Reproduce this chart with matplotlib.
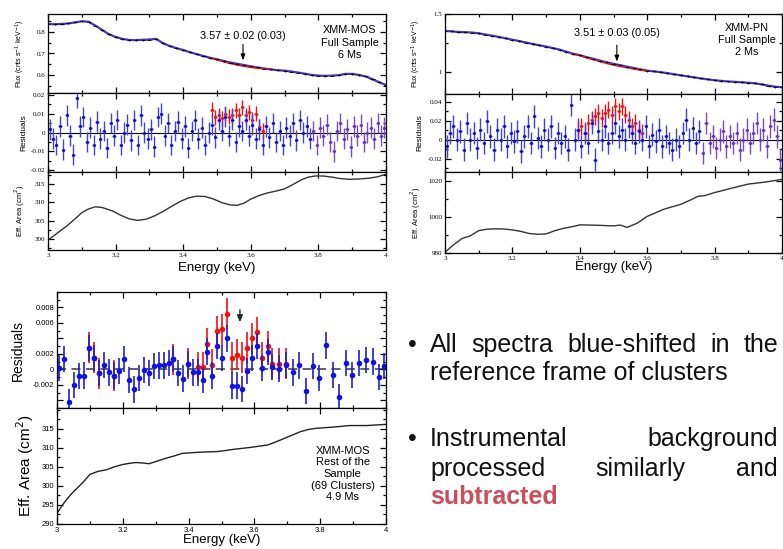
import matplotlib
matplotlib.use('Agg')
import matplotlib.pyplot as plt
import numpy as np
from matplotlib.ticker import MultipleLocator, FixedLocator, FixedFormatter

# ---------------- DATA ----------------
# Top-left: XMM-MOS full sample
mos_flux_E = [3.00, 3.02, 3.04, 3.06, 3.08, 3.10, 3.12, 3.14, 3.16, 3.18, 3.20, 3.22, 3.24, 3.26, 3.28,
              3.30, 3.32, 3.34, 3.36, 3.38, 3.40, 3.42, 3.44, 3.46, 3.48, 3.50, 3.52, 3.54, 3.56, 3.58,
              3.60, 3.62, 3.64, 3.66, 3.68, 3.70, 3.72, 3.74, 3.76, 3.78, 3.80, 3.82, 3.84, 3.86, 3.88,
              3.90, 3.92, 3.94, 3.96, 3.98, 4.00]
mos_flux = [0.838, 0.836, 0.838, 0.840, 0.845, 0.850, 0.848, 0.830, 0.810, 0.790, 0.777, 0.768, 0.763,
            0.762, 0.764, 0.765, 0.768, 0.748, 0.735, 0.725, 0.716, 0.706, 0.697, 0.688, 0.680, 0.673,
            0.665, 0.658, 0.652, 0.646, 0.640, 0.635, 0.630, 0.626, 0.622, 0.620, 0.616, 0.611, 0.606,
            0.600, 0.597, 0.596, 0.597, 0.599, 0.605, 0.605, 0.600, 0.593, 0.580, 0.566, 0.553]
mos_nol_E = [3.48, 3.50, 3.52, 3.54, 3.56, 3.58, 3.60, 3.62, 3.64, 3.66]
mos_nol_flux = [0.679, 0.670, 0.661, 0.653, 0.646, 0.640, 0.635, 0.631, 0.628, 0.625]

mos_res_E0, mos_res_dE = 3.005, 0.01
mos_res = [0.0017, -0.0033, -0.0067, 0.0033, -0.0092, 0.0092, -0.0017, -0.0117, 0.0183, 0.0033,
           0.0083, -0.005, 0.0025, -0.0067, 0.0058, -0.0033, 0.0008, -0.0083, 0.005, -0.0017,
           0.0067, -0.0067, 0.0, 0.0042, -0.0042, 0.0067, -0.0067, 0.0092, 0.0, -0.0033,
           0.0017, -0.0075, 0.0083, 0.01, -0.0017, 0.005, -0.0067, 0.0008, 0.0058, -0.0033,
           0.0033, -0.0083, 0.0008, 0.0067, -0.0033, 0.0025, -0.0067, 0.0, 0.0042, -0.0025,
           0.0067, 0.0008, 0.0083, -0.0017, 0.0067, -0.005, 0.0033, 0.0008, 0.0067, -0.0017,
           0.0042, -0.0033, 0.0017, -0.0067, 0.0033, -0.0025, 0.005, -0.005, 0.0008, -0.0067,
           0.0025, -0.0017, 0.005, -0.0042, 0.0067, 0.0, 0.0033, -0.0033, 0.0008, -0.0067,
           0.0025, -0.0017, 0.0042, -0.005, -0.01, 0.0008, 0.005, -0.0033, 0.0017, -0.0075,
           0.0033, -0.0017, 0.0042, -0.005, 0.0, 0.0025, -0.0033, 0.005, -0.0017, 0.0025]
mos_red_E = [3.485, 3.495, 3.505, 3.515, 3.525, 3.535, 3.545, 3.555, 3.565, 3.575, 3.585, 3.595,
             3.605, 3.615, 3.625, 3.635]
mos_red = [0.012, 0.008, 0.0092, 0.0075, 0.01, 0.0083, 0.0092, 0.0117, 0.0092, 0.0133, 0.0092,
           0.0108, 0.0067, 0.01, 0.003, 0.001]

mos_area_E = [3.00, 3.03, 3.055, 3.08, 3.10, 3.12, 3.14, 3.16, 3.19, 3.215, 3.24, 3.265, 3.29, 3.315,
              3.34, 3.365, 3.39, 3.415, 3.44, 3.465, 3.49, 3.515, 3.54, 3.56, 3.58, 3.60, 3.625, 3.65,
              3.675, 3.70, 3.725, 3.75, 3.77, 3.79, 3.815, 3.84, 3.865, 3.89, 3.92, 3.95, 3.975, 4.00]
mos_area = [299.7, 301.8, 303.5, 305.5, 307.2, 308.2, 308.8, 308.6, 307.7, 306.5, 305.5, 305.1, 305.4,
            306.3, 307.5, 308.9, 310.2, 311.2, 311.7, 311.6, 310.9, 309.9, 309.3, 309.2, 309.8, 310.9,
            311.9, 312.6, 313.1, 313.7, 314.9, 316.2, 316.9, 317.2, 317.2, 316.9, 316.5, 316.3, 316.4,
            316.6, 317.0, 317.7]

# Top-right: XMM-PN full sample
pn_flux_E = mos_flux_E
pn_flux = [1.354, 1.350, 1.345, 1.343, 1.340, 1.333, 1.323, 1.313, 1.302, 1.290, 1.278, 1.267, 1.254,
           1.242, 1.230, 1.219, 1.206, 1.193, 1.175, 1.157, 1.145, 1.127, 1.114, 1.098, 1.083, 1.070,
           1.058, 1.046, 1.034, 1.022, 1.012, 1.005, 0.998, 0.990, 0.980, 0.971, 0.962, 0.953, 0.944,
           0.936, 0.929, 0.923, 0.918, 0.915, 0.911, 0.907, 0.902, 0.893, 0.882, 0.873, 0.868]
pn_nol_E = [3.38, 3.40, 3.42, 3.44, 3.46, 3.48, 3.50, 3.52, 3.54, 3.56, 3.58, 3.60]
pn_nol_flux = [1.154, 1.140, 1.121, 1.106, 1.089, 1.073, 1.059, 1.047, 1.036, 1.025, 1.015, 1.008]

pn_res_E0, pn_res_dE = 3.005, 0.01
pn_res = [-0.007, 0.007, 0.014, 0.0, 0.0088, -0.0105, 0.0175, 0.0, 0.007, -0.0088,
          0.0105, -0.0035, 0.0193, 0.0035, -0.0105, 0.0105, 0.0, 0.014, -0.007, 0.007,
          -0.0018, 0.0088, -0.0123, 0.0035, 0.014, -0.0035, 0.0246, 0.0018, -0.007, 0.0105,
          0.0, 0.014, -0.0088, 0.007, -0.0035, 0.0035, -0.0105, 0.0368, 0.0, 0.0105,
          -0.007, 0.007, -0.0035, 0.0175, -0.021, 0.0088, 0.0, 0.014, -0.0035, 0.007,
          0.0175, 0.0035, 0.0105, 0.0, 0.014, 0.007, -0.0035, 0.0088, 0.0, 0.014,
          -0.007, 0.0053, -0.0018, 0.0105, -0.007, 0.0035, -0.0035, -0.0105, 0.0, -0.007,
          0.007, 0.021, 0.0, 0.0123, -0.0035, 0.0088, -0.014, 0.0175, -0.0035, 0.0035,
          -0.0088, 0.0, 0.0088, -0.007, 0.0035, -0.0035, 0.007, -0.0105, 0.0, 0.0105,
          -0.0035, 0.007, 0.0175, 0.0, 0.0105, -0.007, 0.014, 0.021, 0.0035, -0.021]
pn_red_E = [3.395, 3.405, 3.415, 3.425, 3.435, 3.445, 3.455, 3.465, 3.475, 3.485, 3.495, 3.505,
            3.515, 3.525, 3.535, 3.545, 3.555, 3.565, 3.575, 3.585]
pn_red = [0.0105, 0.014, 0.007, 0.0175, 0.021, 0.0246, 0.028, 0.0228, 0.028, 0.0316, 0.0263, 0.035,
          0.0298, 0.035, 0.0263, 0.021, 0.014, 0.0175, 0.0105, 0.007]

pn_area_E = [3.0, 3.025, 3.05, 3.075, 3.1, 3.125, 3.15, 3.175, 3.2, 3.225, 3.25, 3.275, 3.3, 3.325,
             3.35, 3.375, 3.4, 3.45, 3.5, 3.52, 3.54, 3.57, 3.6, 3.65, 3.7, 3.73, 3.75, 3.77, 3.8,
             3.85, 3.9, 3.95, 4.0]
pn_area = [980.4, 984.5, 988.0, 989.5, 992.4, 993.2, 993.4, 993.3, 992.8, 992.0, 990.8, 990.4, 990.6,
           992.3, 993.6, 994.5, 995.6, 995.4, 995.0, 995.5, 994.2, 996.5, 1000.3, 1004.3, 1007.0,
           1009.5, 1011.4, 1011.8, 1013.5, 1015.9, 1018.2, 1019.3, 1020.8]

# Bottom-left: XMM-MOS rest of the sample
rest_E = [3.006, 3.020, 3.036, 3.051, 3.066, 3.081, 3.096, 3.112, 3.127, 3.142, 3.157, 3.173, 3.188,
          3.203, 3.218, 3.234, 3.249, 3.264, 3.279, 3.294, 3.310, 3.325, 3.340, 3.353, 3.369, 3.384,
          3.399, 3.414, 3.429, 3.445, 3.457, 3.472, 3.487, 3.503, 3.518, 3.533, 3.548, 3.563, 3.579,
          3.594, 3.609, 3.624, 3.640, 3.655, 3.675, 3.695, 3.716, 3.736, 3.756, 3.777, 3.797, 3.817,
          3.838, 3.858, 3.878, 3.898, 3.919, 3.939, 3.959, 3.978, 3.993]
rest_res = [0.0002, 0.0013, -0.0042, -0.002, -0.0009, -0.0008, 0.0028, 0.0015, -0.0005, 0.0006,
            -0.0004, -0.0008, -0.0002, 0.0013, -0.0014, -0.0026, -0.0011, -0.0001, -0.0005, 0.0004,
            0.0005, 0.0005, 0.0008, 0.0013, -0.0005, -0.0012, 0.0007, -0.0004, -0.0004, -0.0014,
            0.0023, -0.0008, 0.003, 0.0015, 0.004, -0.0021, -0.0021, -0.0025, -0.0002, 0.0015,
            0.003, 0.0002, 0.0022, 0.0003, 0.0001, 0.0006, -0.0004, 0.0005, -0.0028, 0.0004,
            -0.0011, 0.0031, -0.0007, -0.0036, 0.0008, -0.0007, 0.0008, 0.0012, 0.001, -0.001, 0.0004]
rest_red_E = [3.096, 3.112, 3.127, 3.173, 3.353, 3.399, 3.429, 3.445, 3.457, 3.472, 3.487, 3.503,
              3.518, 3.533, 3.548, 3.563, 3.579, 3.594, 3.609, 3.624, 3.640, 3.655, 3.675, 3.695]
rest_red = [0.0028, 0.0015, -0.0005, -0.0008, 0.0013, 0.0007, 0.0003, 0.0003, 0.0033, 0.0006, 0.0049,
            0.0052, 0.0072, 0.0015, 0.0019, 0.0015, 0.0028, 0.004, 0.0048, 0.0015, 0.003, 0.0007,
            0.0007, 0.0007]
rest_area_E = [3.0, 3.015, 3.03, 3.045, 3.06, 3.08, 3.1, 3.125, 3.15, 3.175, 3.2, 3.22, 3.24, 3.26,
               3.28, 3.305, 3.33, 3.355, 3.38, 3.43, 3.49, 3.54, 3.59, 3.64, 3.665, 3.69, 3.715,
               3.74, 3.765, 3.79, 3.84, 3.89, 3.94, 4.0]
rest_area = [292.8, 294.8, 296.5, 298.0, 299.3, 301.0, 303.0, 303.8, 304.2, 305.0, 305.6, 305.9, 306.1,
             306.0, 305.8, 306.5, 307.2, 307.8, 308.5, 308.8, 309.0, 309.6, 310.1, 310.7, 311.5,
             312.4, 313.3, 314.2, 314.8, 315.1, 315.4, 315.8, 315.8, 316.1]

# ---------------- FIGURE ----------------
W, H = 783, 549
fig = plt.figure(figsize=(W / 100, H / 100), dpi=100)

def add_ax(l, t, r, b):
    return fig.add_axes([l / W, 1 - b / H, (r - l) / W, (b - t) / H])

def style(ax, fs=5, fam='Liberation Serif', lw=0.9):
    ax.tick_params(which='both', direction='in', top=True, right=True, width=lw,
                   labelsize=fs, pad=2)
    ax.tick_params(which='major', length=4)
    ax.tick_params(which='minor', length=2.2)
    for lab in ax.get_xticklabels() + ax.get_yticklabels():
        lab.set_family(fam)
    for s in ax.spines.values():
        s.set_linewidth(lw)

BLUE_BAR = '#4646c4'
BLUE_PT = '#0a0ae0'
PURP_BAR = '#7a4eb4'
PURP_PT = '#6a2ec8'
RED = '#f01010'
ARROW = dict(arrowstyle='-|>,head_width=0.13,head_length=0.35', color='black', lw=0.8,
             shrinkA=0, shrinkB=0)

def resid_plot(ax, E, R, err, xerr, cut, msize=2.2):
    E = np.asarray(E); R = np.asarray(R)
    m1 = E < cut
    m2 = ~m1
    ax.errorbar(E[m1], R[m1], yerr=err, xerr=xerr, fmt='none', ecolor=BLUE_BAR, elinewidth=1.0)
    ax.errorbar(E[m2], R[m2], yerr=err, xerr=xerr, fmt='none', ecolor=PURP_BAR, elinewidth=1.0)
    ax.plot(E[m1], R[m1], 'o', ms=msize, color=BLUE_PT, mew=0)
    ax.plot(E[m2], R[m2], 'o', ms=msize, color=PURP_PT, mew=0)

def xsetup(ax, labels=False):
    ax.set_xlim(3, 4)
    ax.xaxis.set_major_locator(MultipleLocator(0.2))
    ax.xaxis.set_minor_locator(MultipleLocator(0.1))
    if labels:
        ax.xaxis.set_major_formatter(plt.FuncFormatter(lambda v, p: '%g' % round(v, 2)))
    else:
        ax.set_xticklabels([])

SANS = 'Liberation Sans'

# ===== Top-left: MOS =====
axf = add_ax(48, 14, 386, 93)
axr = add_ax(48, 93, 386, 172)
axa = add_ax(48, 172, 386, 250)

axf.plot(mos_flux_E, mos_flux, color='#4a34c0', lw=1.6, zorder=2)
axf.plot(mos_nol_E, mos_nol_flux, color=RED, lw=1.0, zorder=2)
axf.errorbar(mos_flux_E, mos_flux, yerr=0.004, xerr=0.006, fmt='none', ecolor='black',
             elinewidth=0.6, zorder=3)
axf.set_ylim(0.516, 0.884)
axf.yaxis.set_major_locator(FixedLocator([0.6, 0.7, 0.8]))
axf.yaxis.set_major_formatter(FixedFormatter(['0.6', '0.7', '0.8']))
axf.yaxis.set_minor_locator(MultipleLocator(0.05))
xsetup(axf)
axf.text(3.577, 0.781, '3.57 ± 0.02 (0.03)', ha='center', va='center', fontsize=7.8, family=SANS)
axf.annotate('', xy=(3.577, 0.668), xytext=(3.577, 0.742), arrowprops=ARROW)
axf.text(0.893, 0.635, 'XMM-MOS\nFull Sample\n6 Ms', transform=axf.transAxes, ha='center',
         va='center', fontsize=7.8, family=SANS, linespacing=1.3)
axf.set_ylabel('Flux (cnts s$^{-1}$ keV$^{-1}$)', fontsize=5, family=SANS)
axf.yaxis.set_label_coords(-0.062, 0.5)
style(axf)

rE = mos_res_E0 + mos_res_dE * np.arange(len(mos_res))
axr.axhline(0, color='black', lw=0.8, zorder=1)
axr.errorbar(mos_red_E, mos_red, yerr=0.004, xerr=0.005, fmt='none', ecolor=RED, elinewidth=1.0)
axr.plot(mos_red_E, mos_red, 'o', ms=2.2, color=RED, mew=0)
resid_plot(axr, rE, mos_res, 0.0055, 0.005, 3.78)
axr.set_ylim(-0.021, 0.021)
axr.yaxis.set_major_locator(FixedLocator([-0.02, -0.01, 0, 0.01, 0.02]))
axr.yaxis.set_major_formatter(FixedFormatter(['-0.02', '-0.01', '0', '0.01', '0.02']))
axr.yaxis.set_minor_locator(MultipleLocator(0.005))
xsetup(axr)
axr.set_ylabel('Residuals', fontsize=6, family=SANS)
axr.yaxis.set_label_coords(-0.062, 0.5)
style(axr)

axa.plot(mos_area_E, mos_area, color='#333333', lw=1.0)
axa.set_ylim(297.0, 318.3)
axa.yaxis.set_major_locator(FixedLocator([300, 305, 310, 315]))
axa.yaxis.set_minor_locator(MultipleLocator(2.5))
xsetup(axa, labels=True)
axa.set_ylabel('Eff. Area (cm$^2$)', fontsize=5.5, family=SANS)
axa.yaxis.set_label_coords(-0.062, 0.5)
axa.set_xlabel('Energy (keV)', fontsize=9.5, family=SANS)
axa.xaxis.set_label_coords(0.5, -0.15)
style(axa)

# ===== Top-right: PN =====
bxf = add_ax(445, 14, 782, 94)
bxr = add_ax(445, 94, 782, 172)
bxa = add_ax(445, 172, 782, 253)

bxf.plot(pn_flux_E, pn_flux, color='#4a34c0', lw=1.6, zorder=2)
bxf.plot(pn_nol_E, pn_nol_flux, color=RED, lw=1.0, zorder=2)
bxf.errorbar(pn_flux_E, pn_flux, yerr=0.008, xerr=0.006, fmt='none', ecolor='black',
             elinewidth=0.6, zorder=3)
bxf.set_ylim(0.81, 1.5)
bxf.yaxis.set_major_locator(FixedLocator([1.0, 1.5]))
bxf.yaxis.set_major_formatter(FixedFormatter(['1', '1.5']))
bxf.yaxis.set_minor_locator(FixedLocator([1.25]))
xsetup(bxf)
bxf.text(3.51, 1.333, '3.51 ± 0.03 (0.05)', ha='center', va='center', fontsize=7.8, family=SANS)
bxf.annotate('', xy=(3.51, 1.09), xytext=(3.51, 1.232), arrowprops=ARROW)
bxf.text(0.896, 0.675, 'XMM-PN\nFull Sample\n2 Ms', transform=bxf.transAxes, ha='center',
         va='center', fontsize=7.8, family=SANS, linespacing=1.2)
bxf.set_ylabel('Flux (cnts s$^{-1}$ keV$^{-1}$)', fontsize=5, family=SANS)
bxf.yaxis.set_label_coords(-0.065, 0.5)
style(bxf)

pE = pn_res_E0 + pn_res_dE * np.arange(len(pn_res))
bxr.axhline(0, color='black', lw=0.8, zorder=1)
bxr.errorbar(pn_red_E, pn_red, yerr=0.009, xerr=0.005, fmt='none', ecolor=RED, elinewidth=1.0)
bxr.plot(pn_red_E, pn_red, 'o', ms=2.2, color=RED, mew=0)
resid_plot(bxr, pE, pn_res, 0.012, 0.005, 3.76)
bxr.set_ylim(-0.034, 0.048)
bxr.yaxis.set_major_locator(FixedLocator([-0.02, 0, 0.02, 0.04]))
bxr.yaxis.set_major_formatter(FixedFormatter(['-0.02', '0', '0.02', '0.04']))
bxr.yaxis.set_minor_locator(MultipleLocator(0.01))
xsetup(bxr)
bxr.set_ylabel('Residuals', fontsize=6, family=SANS)
bxr.yaxis.set_label_coords(-0.065, 0.5)
style(bxr)

bxa.plot(pn_area_E, pn_area, color='#333333', lw=1.0)
bxa.set_ylim(980, 1024.9)
bxa.yaxis.set_major_locator(FixedLocator([980, 1000, 1020]))
bxa.yaxis.set_minor_locator(MultipleLocator(10))
xsetup(bxa, labels=True)
bxa.set_ylabel('Eff. Area (cm$^2$)', fontsize=5.5, family=SANS)
bxa.yaxis.set_label_coords(-0.065, 0.5)
bxa.set_xlabel('Energy (keV)', fontsize=9.5, family=SANS)
bxa.xaxis.set_label_coords(0.5, -0.10)
style(bxa)

# ===== Bottom-left: MOS rest =====
cxr = add_ax(57, 292, 386, 408)
cxa = add_ax(57, 408, 386, 524)

cxr.axhline(0, color='#555555', lw=1.3, ls=(0, (5, 3)), zorder=1)
cxr.errorbar(rest_red_E, rest_red, yerr=0.002, fmt='none', ecolor=RED, elinewidth=1.2)
cxr.plot(rest_red_E, rest_red, 'o', ms=4, color=RED, mew=0)
cxr.errorbar(rest_E, rest_res, yerr=0.0017, fmt='none', ecolor='#2020c8', elinewidth=1.2)
cxr.plot(rest_E, rest_res, 'o', ms=4, color='#1010e8', mew=0)
cxr.set_ylim(-0.005, 0.01)
cxr.yaxis.set_major_locator(FixedLocator([-0.004, -0.002, 0, 0.002, 0.004, 0.006, 0.008]))
cxr.yaxis.set_major_formatter(FixedFormatter(['', '-0.002', '0', '0.002', '', '0.006', '0.008']))
cxr.yaxis.set_minor_locator(MultipleLocator(0.001))
xsetup(cxr)
cxr.annotate('', xy=(3.556, 0.0061), xytext=(3.556, 0.0077),
             arrowprops=dict(arrowstyle='-|>,head_width=0.17,head_length=0.4', color='#1a2a20',
                             lw=1.0, shrinkA=0, shrinkB=0))
cxr.set_ylabel('Residuals', fontsize=10, family=SANS)
cxr.yaxis.set_label_coords(-0.097, 0.5)
style(cxr, fs=5.5, fam=SANS)

cxa.plot(rest_area_E, rest_area, color='#222222', lw=1.0)
cxa.set_ylim(290, 320.4)
cxa.yaxis.set_major_locator(FixedLocator([290, 295, 300, 305, 310, 315]))
cxa.yaxis.set_minor_locator(MultipleLocator(2.5))
xsetup(cxa, labels=True)
cxa.set_ylabel('Eff. Area (cm$^2$)', fontsize=11, family=SANS)
cxa.yaxis.set_label_coords(-0.063, 0.5)
cxa.set_xlabel('Energy (keV)', fontsize=9.5, family=SANS)
cxa.xaxis.set_label_coords(0.5, -0.09)
cxa.text(0.869, 0.431, 'XMM-MOS\nRest of the\nSample\n(69 Clusters)\n4.9 Ms', transform=cxa.transAxes,
         ha='center', va='center', fontsize=8, family=SANS, linespacing=1.2)
style(cxa, fs=5.5, fam=SANS)

# ===== Bullet text =====
renderer = fig.canvas.get_renderer()
TXT = dict(fontsize=18, family=SANS, color='#111111')

def fx(x):
    return x / W

def fy(y):
    return 1 - y / H

def justify(words, x0, x1, y, **kw):
    ts = [fig.text(0, fy(y), w, va='baseline', ha='left', **kw) for w in words]
    widths = [t.get_window_extent(renderer).width for t in ts]
    gap = (x1 - x0 - sum(widths)) / (len(words) - 1)
    x = x0
    for t, w in zip(ts, widths):
        t.set_x(fx(x))
        x += w + gap

justify(['All', 'spectra', 'blue-shifted', 'in', 'the'], 430, 778, 352, **TXT)
fig.text(fx(430), fy(380), 'reference frame of clusters', va='baseline', ha='left', **TXT)
justify(['Instrumental', 'background'], 430, 778, 446, **TXT)
justify(['processed', 'similarly', 'and'], 430, 778, 476, **TXT)
fig.text(fx(430), fy(504), 'subtracted', va='baseline', ha='left', fontsize=18,
         family=SANS, weight='bold', color='#c8505c')
for yb in (352, 446):
    fig.text(fx(412), fy(yb), '•', va='baseline', ha='center', **TXT)

fig.savefig('out.png', dpi=100)
